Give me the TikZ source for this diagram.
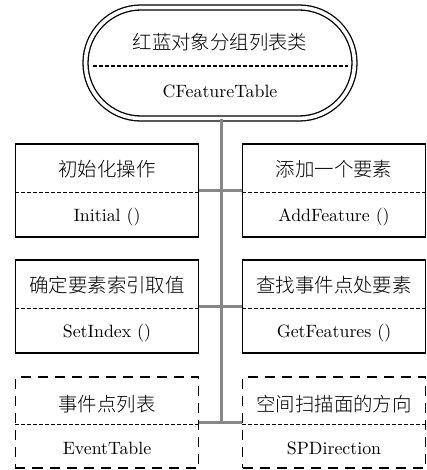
\documentclass[tikz,border=0pt]{standalone}
\usepackage{fontspec}
\newfontfamily\lmten{lmroman10-regular.otf}
\IfFontExistsTF{Noto Sans CJK SC Light}
  {\newfontfamily\cjkfam{Noto Sans CJK SC Light}}
  {\newfontfamily\cjkfam{Noto Sans CJK SC}}
\usetikzlibrary{shapes.misc}
\definecolor{linkgray}{RGB}{135,135,135}
\begin{document}
\begin{tikzpicture}[x=1bp,y=-1bp,
  box/.style={draw, line width=1.5bp, minimum width=183bp, minimum height=93bp, inner sep=0pt},
  dbox/.style={box, minimum height=91bp, dash pattern=on 10bp off 7bp},
  divider/.style={line width=1.9bp, dash pattern=on 4bp off 2bp},
  link/.style={draw=linkgray, line width=3bp},
  cn/.style={font=\cjkfam\fontsize{19.5}{20}\selectfont, inner sep=0pt},
  en/.style={font=\lmten\fontsize{17.9}{19}\selectfont, inner sep=0pt},
  capsule/.style={rounded rectangle, draw, line width=1.3bp, double, double distance=3.7bp,
    minimum width=269bp, minimum height=111bp, inner sep=0pt}
]
\useasboundingbox (0,0) rectangle (426,470);

% top class
\node[capsule] (top) at (220,63) {};
\node[cn] (t0a) at (220,42) {红蓝对象分组列表类};
\node[en] (t0b) at (220,91) {CFeatureTable};
\coordinate (d0l) at (93,66);
\coordinate (d0r) at (348,66);
\draw[divider] (d0l) -- (d0r);

% boxes
\node[box] (b1) at (107,190.5) {};
\node[box] (b2) at (334,190.5) {};
\node[box] (b3) at (107,306.5) {};
\node[box] (b4) at (334,306.5) {};
\node[dbox] (b5) at (107,422.5) {};
\node[dbox] (b6) at (334,422.5) {};

\foreach \b in {b1,b2,b3,b4,b5,b6}{
  \draw[divider] ([yshift=-2bp]\b.west) -- ([yshift=-2bp]\b.east);
}

\node[cn] (t1a) at ([yshift=21bp]b1.center) {初始化操作};
\node[en] (t1b) at ([yshift=-26.5bp]b1.center) {Initial ()};
\node[cn] (t2a) at ([yshift=21bp]b2.center) {添加一个要素};
\node[en] (t2b) at ([yshift=-26.5bp]b2.center) {AddFeature ()};
\node[cn] (t3a) at ([yshift=21bp]b3.center) {确定要素索引取值};
\node[en] (t3b) at ([yshift=-26.5bp]b3.center) {SetIndex ()};
\node[cn] (t4a) at ([yshift=21bp]b4.center) {查找事件点处要素};
\node[en] (t4b) at ([yshift=-26.5bp]b4.center) {GetFeatures ()};
\node[cn] (t5a) at ([yshift=18.5bp]b5.center) {事件点列表};
\node[en] (t5b) at ([yshift=-25.5bp]b5.center) {EventTable};
\node[cn] (t6a) at ([yshift=18.5bp]b6.center) {空间扫描面的方向};
\node[en] (t6b) at ([yshift=-25.5bp]b6.center) {SPDirection};

% connectors
\coordinate (j3) at (221,423);
\draw[link] (top.south -| j3) -- (j3);
\draw[link] (b1.east) -- (b2.west);
\draw[link] (b3.east) -- (b4.west);
\draw[link] (b5.east) -- (b6.west);
\end{tikzpicture}
\end{document}
